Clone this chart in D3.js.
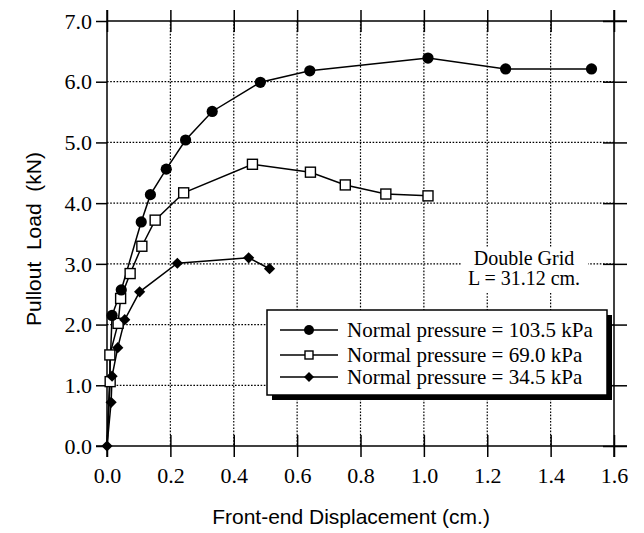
<!DOCTYPE html>
<html><head><meta charset="utf-8">
<script src="https://cdn.jsdelivr.net/npm/d3@7"></script>
<style>html,body{margin:0;padding:0;background:#fff;}svg{display:block;}</style>
</head><body>
<svg id="c" width="644" height="533"></svg>
<script>
// ---- data ----
const xTicks = [0,0.2,0.4,0.6,0.8,1.0,1.2,1.4,1.6];
const yTicks = [0,1,2,3,4,5,6,7];
const x103 = [0.016,0.045,0.108,0.137,0.187,0.248,0.332,0.484,0.640,1.013,1.258,1.529];
const y103 = [2.15,2.57,3.69,4.14,4.56,5.04,5.51,5.99,6.18,6.39,6.21,6.21];
const x69 = [0.010,0.009,0.035,0.043,0.073,0.110,0.152,0.242,0.459,0.642,0.752,0.880,1.013];
const y69 = [1.06,1.50,2.02,2.43,2.84,3.29,3.72,4.17,4.64,4.51,4.30,4.15,4.12];
const x34 = [0,0.013,0.016,0.034,0.056,0.103,0.222,0.447,0.513];
const y34 = [0,0.72,1.15,1.62,2.08,2.54,3.01,3.10,2.92];
const origin = [0,0];
const legendLabels = ["Normal pressure = 103.5 kPa","Normal pressure = 69.0 kPa","Normal pressure = 34.5 kPa"];
const noteLines = ["Double Grid","L = 31.12 cm."];

const serif = "'Liberation Serif','Times New Roman',serif";
const sans = "'Liberation Sans',Arial,sans-serif";
const svg = d3.select("#c");
const L=107, R=614, T=21, B=446;
const x = d3.scaleLinear().domain([0,1.6]).range([L,R]);
const y = d3.scaleLinear().domain([0,7]).range([B,T]);

// grid
const g = svg.append("g");
g.selectAll(".gx").data(xTicks.slice(1,-1)).join("line")
  .attr("x1",d=>x(d)).attr("x2",d=>x(d)).attr("y1",T).attr("y2",B)
  .attr("stroke","#000").attr("stroke-width",1.2).attr("stroke-dasharray","1.6,1.6");
g.selectAll(".gy").data(yTicks.slice(1,-1)).join("line")
  .attr("x1",L).attr("x2",R).attr("y1",d=>y(d)).attr("y2",d=>y(d))
  .attr("stroke","#000").attr("stroke-width",1.2).attr("stroke-dasharray","1.6,1.6");

// axes (frame with crossing ticks)
const tk = 11;
const axB = svg.append("g").attr("transform",`translate(0,${B})`)
  .call(d3.axisBottom(x).tickValues(xTicks).tickFormat(d3.format(".1f")).tickSizeInner(tk).tickSizeOuter(0));
const axT = svg.append("g").attr("transform",`translate(0,${T})`)
  .call(d3.axisTop(x).tickValues(xTicks).tickFormat("").tickSizeInner(tk).tickSizeOuter(0));
const axL = svg.append("g").attr("transform",`translate(${L},0)`)
  .call(d3.axisLeft(y).tickValues(yTicks).tickFormat(d3.format(".1f")).tickSizeInner(tk).tickSizeOuter(0));
const axR = svg.append("g").attr("transform",`translate(${R},0)`)
  .call(d3.axisRight(y).tickValues(yTicks).tickFormat("").tickSizeInner(tk).tickSizeOuter(0));
[axB,axT,axL,axR].forEach(a=>{a.select(".domain").remove();a.selectAll("line").attr("stroke","#000").attr("stroke-width",1.5);});
// inward parts of ticks
axB.selectAll(".tick line").attr("y1",-tk);
axT.selectAll(".tick line").attr("y1",tk);
axR.selectAll(".tick line").attr("x1",-tk).attr("x2",13);
// frame lines
const fr = svg.append("g").attr("stroke","#000").attr("stroke-width",1.5);
fr.append("line").attr("x1",L-tk).attr("x2",R+13).attr("y1",B).attr("y2",B);
fr.append("line").attr("x1",L).attr("x2",R+13).attr("y1",T).attr("y2",T);
fr.append("line").attr("x1",L).attr("x2",L).attr("y1",T-tk).attr("y2",B+tk);
fr.append("line").attr("x1",R).attr("x2",R).attr("y1",T-tk).attr("y2",B+tk);

axB.selectAll("text").attr("font-family",serif).attr("font-size",22).attr("fill","#000").attr("y",null).attr("dy",null)
  .attr("transform",null).attr("y",37);
axL.selectAll("text").attr("font-family",serif).attr("font-size",22).attr("fill","#000").attr("x",-15).attr("dy","0.33em");

// axis titles
svg.append("text").attr("x",351).attr("y",524).attr("text-anchor","middle")
  .attr("font-family",sans).attr("font-size",21).text("Front-end Displacement (cm.)");
svg.append("text").attr("transform","translate(41,239) rotate(-90)").attr("text-anchor","middle")
  .attr("font-family",sans).attr("font-size",21).attr("xml:space","preserve").style("white-space","pre")
  .text("Pullout  Load  (kN)");

// note
svg.append("rect").attr("x",462).attr("y",247).attr("width",126).attr("height",45).attr("fill","#fff");
noteLines.forEach((t,i)=>svg.append("text").attr("x",524).attr("y",265+i*20).attr("text-anchor","middle")
  .attr("font-family",serif).attr("font-size",20).text(t));

// series
const line = d3.line().x(d=>x(d[0])).y(d=>y(d[1]));
const p103 = x103.map((v,i)=>[v,y103[i]]);
const p69 = x69.map((v,i)=>[v,y69[i]]);
const p34 = x34.map((v,i)=>[v,y34[i]]);
const lw = 1.5;
svg.append("path").attr("d",line([origin,...p103])).attr("fill","none").attr("stroke","#000").attr("stroke-width",lw);
svg.append("path").attr("d",line([origin,...p69])).attr("fill","none").attr("stroke","#000").attr("stroke-width",lw);
svg.append("path").attr("d",line(p34)).attr("fill","none").attr("stroke","#000").attr("stroke-width",lw);

const circ = (sel,cx,cy,r)=>sel.append("circle").attr("cx",cx).attr("cy",cy).attr("r",r).attr("fill","#000");
const sq = (sel,cx,cy,s)=>sel.append("rect").attr("x",cx-s/2).attr("y",cy-s/2).attr("width",s).attr("height",s).attr("fill","#fff").attr("stroke","#000").attr("stroke-width",1.4);
const dia = (sel,cx,cy,h)=>sel.append("path").attr("d",`M${cx},${cy-h}L${cx+h},${cy}L${cx},${cy+h}L${cx-h},${cy}Z`).attr("fill","#000");

p69.forEach(d=>sq(svg,x(d[0]),y(d[1]),10));
p103.forEach(d=>circ(svg,x(d[0]),y(d[1]),5.6));
p34.forEach(d=>dia(svg,x(d[0]),y(d[1]),5.6));

// legend
const lg = svg.append("g");
lg.append("rect").attr("x",272).attr("y",315).attr("width",340).attr("height",85).attr("fill","#000");
lg.append("rect").attr("x",267).attr("y",310).attr("width",340).attr("height",85).attr("fill","#fff").attr("stroke","#000").attr("stroke-width",1.5);
const rows = [330,355,377];
const mk = [(s,cx,cy)=>circ(s,cx,cy,5),(s,cx,cy)=>sq(s,cx,cy,8),(s,cx,cy)=>dia(s,cx,cy,5)];
legendLabels.forEach((t,i)=>{
  lg.append("line").attr("x1",280).attr("x2",338).attr("y1",rows[i]).attr("y2",rows[i]).attr("stroke","#000").attr("stroke-width",1.5);
  mk[i](lg,309,rows[i]);
  lg.append("text").attr("x",347).attr("y",rows[i]+7).attr("font-family",serif).attr("font-size",21).text(t);
});
</script>
</body></html>
